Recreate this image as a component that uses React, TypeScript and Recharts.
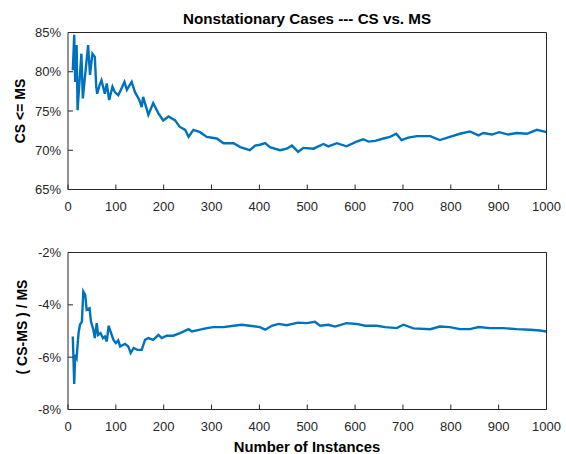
import { LineChart, Line, XAxis, YAxis } from 'recharts';

// top panel: CS <= MS rate (%)
const instancesTop = [
  10, 13, 15, 18, 20, 28, 31, 42, 46, 51, 56, 59, 61, 66, 70, 77, 81, 86, 93, 98,
  105, 112, 118, 123, 133, 140, 149, 154, 157, 168, 178, 189, 199, 210, 224, 233, 245, 252, 262, 276,
  290, 311, 325, 346, 360, 380, 391, 401, 412, 422, 443, 457, 468, 481, 492, 513, 534, 544, 562, 582,
  603, 617, 628, 642, 659, 673, 686, 697, 711, 729, 757, 777, 798, 819, 840, 858, 868, 886, 901, 920,
  938, 959, 980, 1000,
];
const csRate = [
  80.2, 84.7, 78.7, 83.4, 75.1, 82.3, 76.6, 83.4, 79.6, 82.3, 81.9, 78.1, 77.2, 78.3, 78.9, 77.2, 78.5, 76.4, 78.1, 77.4,
  77.0, 77.9, 78.7, 77.7, 78.7, 77.4, 76.4, 75.5, 76.8, 74.5, 76.0, 74.7, 73.8, 74.3, 73.8, 73.0, 72.6, 71.7, 72.6, 72.3,
  71.7, 71.5, 70.9, 70.9, 70.4, 70.0, 70.6, 70.7, 70.9, 70.4, 70.0, 70.2, 70.6, 69.8, 70.3, 70.2, 70.8, 70.5, 70.9, 70.5,
  71.1, 71.4, 71.1, 71.2, 71.5, 71.7, 72.1, 71.3, 71.6, 71.8, 71.8, 71.3, 71.7, 72.1, 72.4, 71.9, 72.2, 72.0, 72.3, 72.0,
  72.2, 72.1, 72.6, 72.3,
];

// bottom panel: (CS-MS)/MS (%)
const instancesBottom = [
  10, 13, 15, 18, 22, 25, 29, 32, 36, 39, 45, 48, 53, 56, 60, 63, 68, 73, 77, 81,
  85, 89, 95, 100, 105, 109, 119, 126, 131, 137, 145, 154, 161, 168, 178, 189, 196, 206, 220, 234,
  252, 259, 276, 290, 304, 325, 346, 363, 380, 401, 412, 426, 440, 457, 481, 499, 516, 527, 544, 558,
  582, 603, 621, 645, 663, 687, 701, 722, 757, 777, 798, 819, 840, 858, 882, 910, 938, 966, 986, 1000,
];
const relDiff = [
  -5.21, -7.02, -5.91, -6.03, -5.08, -4.76, -4.64, -3.49, -3.62, -4.19, -4.13, -4.64, -4.95, -5.27, -4.7, -5.15, -5.08, -5.27, -5.21, -5.4,
  -4.8, -5.02, -5.34, -5.46, -5.36, -5.59, -5.49, -5.59, -5.84, -5.65, -5.72, -5.72, -5.34, -5.27, -5.34, -5.15, -5.27, -5.18, -5.18, -5.08,
  -4.93, -5.02, -4.95, -4.89, -4.85, -4.85, -4.8, -4.76, -4.8, -4.85, -4.95, -4.8, -4.73, -4.78, -4.68, -4.7, -4.65, -4.8, -4.76, -4.83,
  -4.7, -4.73, -4.8, -4.8, -4.85, -4.89, -4.76, -4.9, -4.93, -4.83, -4.85, -4.93, -4.93, -4.85, -4.89, -4.89, -4.93, -4.95, -4.98, -5.02,
];

const xTicks = [0, 100, 200, 300, 400, 500, 600, 700, 800, 900, 1000];
const topTicks = [65, 70, 75, 80, 85];
const bottomTicks = [-8, -6, -4, -2];

const AXIS = '#262626';
const BLUE = '#0072BD';
const FONT = '"Liberation Sans", Arial, Helvetica, sans-serif';

const topData = instancesTop.map((x, i) => ({ x, y: csRate[i] }));
const bottomData = instancesBottom.map((x, i) => ({ x, y: relDiff[i] }));

const tickStyle = { fill: AXIS, fontSize: 13, fontFamily: FONT };

// one MATLAB-style subplot: box on, ticks pointing inward
function Panel({ data, domain, ticks, top }: { data: any[]; domain: number[]; ticks: number[]; top: number }) {
  return (
    <div style={{ position: 'absolute', left: 0, top }}>
      <LineChart width={566} height={220} data={data} margin={{ top: 31.5, right: 18.5, bottom: 0.5, left: 8 }}>
        <XAxis
          dataKey="x"
          type="number"
          domain={[0, 1000]}
          ticks={xTicks}
          allowDataOverflow
          height={30}
          tickSize={-5}
          tickMargin={17.5}
          stroke={AXIS}
          tick={tickStyle}
          interval={0}
        />
        <XAxis
          xAxisId="top"
          orientation="top"
          dataKey="x"
          type="number"
          domain={[0, 1000]}
          ticks={xTicks}
          allowDataOverflow
          height={1}
          tickSize={-5}
          tick={false}
          stroke={AXIS}
          interval={0}
        />
        <YAxis
          type="number"
          domain={domain}
          ticks={ticks}
          allowDataOverflow
          width={60}
          tickSize={-5}
          tickMargin={12}
          stroke={AXIS}
          tick={tickStyle}
          tickFormatter={(v: number) => `${v}%`}
          interval={0}
        />
        <YAxis
          yAxisId="right"
          orientation="right"
          type="number"
          domain={domain}
          ticks={ticks}
          allowDataOverflow
          width={1}
          tickSize={-5}
          tick={false}
          stroke={AXIS}
          interval={0}
        />
        <Line
          type="linear"
          dataKey="y"
          stroke={BLUE}
          strokeWidth={2.4}
          dot={false}
          isAnimationActive={false}
        />
        <Line
          xAxisId="top"
          yAxisId="right"
          type="linear"
          dataKey="y"
          stroke="none"
          dot={false}
          isAnimationActive={false}
        />
      </LineChart>
    </div>
  );
}

export default function App() {
  return (
    <div style={{ position: 'absolute', left: 0, top: 0, width: 566, height: 454, background: '#fff' }}>
      <Panel data={topData} domain={[65, 85]} ticks={topTicks} top={0} />
      <Panel data={bottomData} domain={[-8, -2]} ticks={bottomTicks} top={220} />
      <svg width={566} height={454} style={{ position: 'absolute', left: 0, top: 0, pointerEvents: 'none' }}>
        <g fontFamily={FONT} fontWeight="bold" fill="#000" textAnchor="middle">
          <text x={307} y={23.5} fontSize={15.2}>Nonstationary Cases --- CS vs. MS</text>
          <text x={307} y={452} fontSize={14.8}>Number of Instances</text>
          <text x={25} y={111} fontSize={14} transform="rotate(-90, 25, 111)">CS &lt;= MS</text>
          <text x={27} y={327} fontSize={14} transform="rotate(-90, 27, 327)">( CS-MS ) / MS</text>
        </g>
      </svg>
    </div>
  );
}
